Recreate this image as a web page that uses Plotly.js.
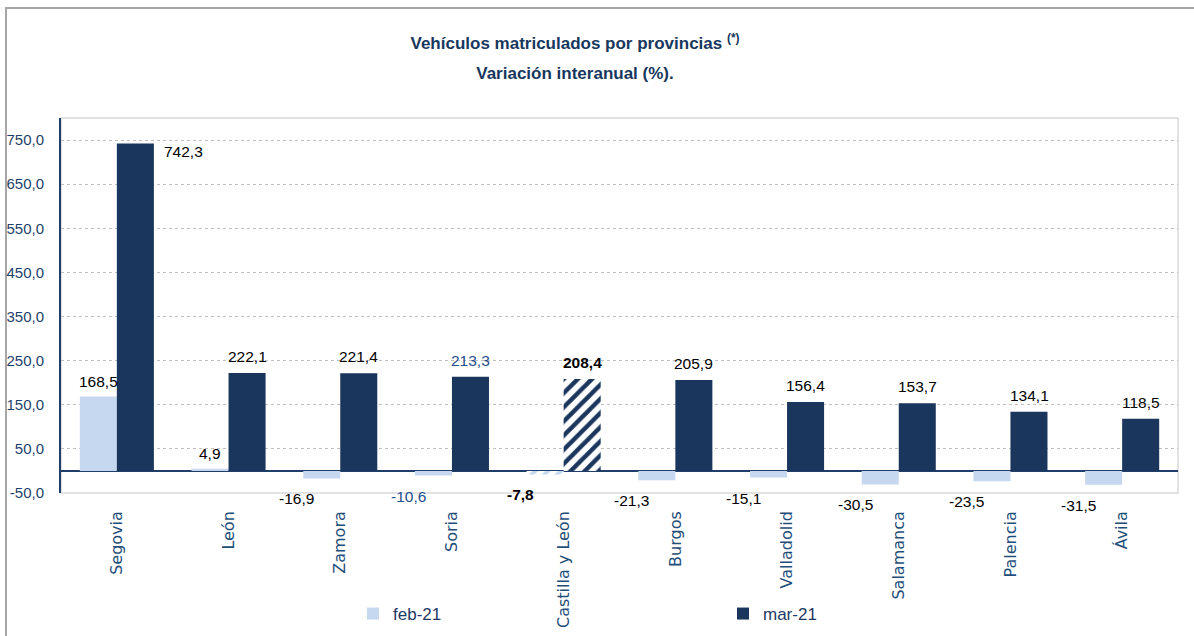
<!DOCTYPE html>
<html>
<head>
<meta charset="utf-8">
<script src="https://cdn.plot.ly/plotly-3.0.1.min.js"></script>
<style>
html,body{margin:0;padding:0;background:#fff;}
#chart{width:1194px;height:636px;}
</style>
</head>
<body>
<div id="chart"></div>
<script>
// ---- data ----
const provincias = ["Segovia","León","Zamora","Soria","Castilla y León","Burgos","Valladolid","Salamanca","Palencia","Ávila"];
const feb21 = [168.5, 4.9, -16.9, -10.6, -7.8, -21.3, -15.1, -30.5, -23.5, -31.5];
const mar21 = [742.3, 222.1, 221.4, 213.3, 208.4, 205.9, 156.4, 153.7, 134.1, 118.5];
const yTicks = [-50, 50, 150, 250, 350, 450, 550, 650, 750];
const seriesNames = ["feb-21", "mar-21"];

// ---- style ----
const NAVY = "#1B365D";
const LIGHT = "#C6D8EF";
const AXISBLUE = "#1F3F6A";
const SANS = "Liberation Sans, Arial, sans-serif";
const fmt = v => v.toFixed(1).replace(".", ",");
const isTotal = c => c === "Castilla y León";
const labelColor = c => c === "Soria" ? "#1F4E8C" : "#000000";

const patShape = provincias.map(c => isTotal(c) ? "/" : "");

const traces = [
  {
    type: "bar", name: seriesNames[0], x: provincias, y: feb21,
    marker: {color: LIGHT, line: {width: 0},
      pattern: {shape: patShape, fgcolor: LIGHT, bgcolor: "#ffffff", size: 9, solidity: 0.45, fillmode: "replace"}},
    hoverinfo: "x+y"
  },
  {
    type: "bar", name: seriesNames[1], x: provincias, y: mar21,
    marker: {color: NAVY, line: {width: 0},
      pattern: {shape: patShape, fgcolor: NAVY, bgcolor: "#ffffff", size: 10, solidity: 0.45, fillmode: "replace"}},
    hoverinfo: "x+y"
  }
];

const annotations = [];
const half = 18.6;
provincias.forEach((c, i) => {
  const fontBase = {family: SANS, size: 15.5, color: labelColor(c)};
  const txt = v => isTotal(c) ? "<b>" + fmt(v) + "</b>" : fmt(v);
  const f = feb21[i];
  if (f >= 0) {
    annotations.push({x: c, y: f, xref: "x", yref: "y", text: txt(f), showarrow: false,
      xanchor: "center", yanchor: "bottom", xshift: -half, yshift: 5, font: fontBase});
  } else {
    annotations.push({x: c, y: f, xref: "x", yref: "y", text: txt(f), showarrow: false,
      xanchor: "center", yanchor: "top", xshift: -half - 25, yshift: -10, font: fontBase});
  }
  const m = mar21[i];
  if (m > 700) {
    annotations.push({x: c, y: m, xref: "x", yref: "y", text: txt(m), showarrow: false,
      xanchor: "left", yanchor: "top", xshift: 2 * half + 8, yshift: 2, font: fontBase});
  } else {
    annotations.push({x: c, y: m, xref: "x", yref: "y", text: txt(m), showarrow: false,
      xanchor: "center", yanchor: "bottom", xshift: half, yshift: 6, font: fontBase});
  }
});

const layout = {
  width: 1194, height: 636,
  margin: {l: 61, r: 16, t: 118, b: 143, autoexpand: false},
  paper_bgcolor: "#ffffff", plot_bgcolor: "#ffffff",
  title: {
    text: "<span style='font-size:17px'><b>Vehículos matriculados por provincias <sup>(*)</sup></b></span><br><span style='font-size:17px'><b>Variación interanual (%).</b></span>",
    x: 575 / 1194, xanchor: "center", xref: "container",
    y: 1 - 49 / 636, yanchor: "top", yref: "container",
    font: {family: SANS, size: 23, color: "#17375E"}
  },
  barmode: "group", bargap: 0.337, bargroupgap: 0,
  showlegend: true,
  legend: {
    orientation: "h", x: (353 - 61) / 1117, xanchor: "left",
    y: (493 - 614) / 375, yanchor: "middle",
    entrywidth: 325, entrywidthmode: "pixels",
    font: {family: SANS, size: 17, color: "#1F3864"},
    itemwidth: 30, traceorder: "normal", bgcolor: "rgba(0,0,0,0)"
  },
  xaxis: {
    type: "category", tickangle: -90,
    tickfont: {family: "DejaVu Sans, Verdana, sans-serif", size: 16, color: "#1F4E79"},
    showgrid: false, showline: false, ticks: "", ticklabelstandoff: 14,
    fixedrange: true
  },
  yaxis: {
    range: [-50, 800], tickvals: yTicks, ticktext: yTicks.map(fmt),
    tickfont: {family: SANS, size: 15, color: AXISBLUE},
    showgrid: true, gridcolor: "#BFBFBF", griddash: "dot", gridwidth: 1,
    zeroline: true, zerolinecolor: "#1F3F6A", zerolinewidth: 2,
    showline: true, linecolor: "#1F3F6A", linewidth: 2,
    ticks: "", ticklabelstandoff: 12, fixedrange: true
  },
  shapes: [
    {type: "rect", xref: "paper", yref: "paper", x0: 0, x1: 1, y0: 0, y1: 1,
      line: {color: "#D9D9D9", width: 1.5}, layer: "below"},
    {type: "rect", xref: "paper", yref: "paper",
      x0: (6 - 61) / 1117, x1: (1220 - 61) / 1117,
      y0: (493 - 660) / 375, y1: (493 - 8) / 375,
      line: {color: "#A6A6A6", width: 2}, layer: "below"}
  ],
  annotations: annotations
};

Plotly.newPlot("chart", traces, layout, {displayModeBar: false, staticPlot: true});
</script>
</body>
</html>
